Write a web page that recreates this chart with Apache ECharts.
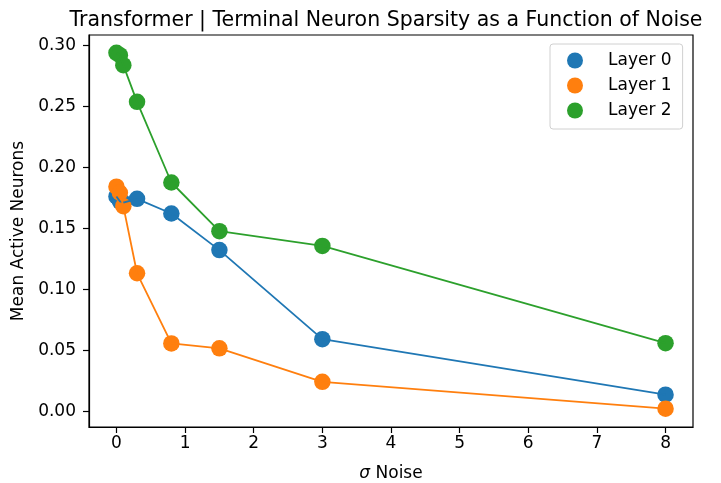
<!DOCTYPE html>
<html>
<head>
<meta charset="utf-8">
<script src="https://cdn.jsdelivr.net/npm/echarts@6/dist/echarts.min.js"></script>
<style>
  html, body { margin: 0; padding: 0; background: #fff; }
  #chart { width: 721px; height: 483px; }
</style>
</head>
<body>
<div id="chart"></div>
<script>
// Noise levels (sigma) tested
const noiseLevels = [0, 0.05, 0.1, 0.3, 0.8, 1.5, 3, 8];
// Mean fraction of active terminal neurons per layer
const layer0 = [0.176, 0.172, 0.171, 0.174, 0.162, 0.132, 0.059, 0.0135];
const layer1 = [0.184, 0.179, 0.168, 0.113, 0.0555, 0.0515, 0.024, 0.002];
const layer2 = [0.2937, 0.2918, 0.2836, 0.2535, 0.1874, 0.1475, 0.1354, 0.0557];
const layerNames = ['Layer 0', 'Layer 1', 'Layer 2'];
const xTicks = [0, 1, 2, 3, 4, 5, 6, 7, 8];
const yTicks = [0, 0.05, 0.10, 0.15, 0.20, 0.25, 0.30];

const colors = ['#1f77b4', '#ff7f0e', '#2ca02c'];
const FONT = 'DejaVu Sans';
const layers = [layer0, layer1, layer2];

const pairs = v => noiseLevels.map((x, i) => [x, v[i]]);

const series = [];
// markers for each layer
layers.forEach((vals, i) => {
  series.push({
    name: layerNames[i],
    type: 'scatter',
    data: pairs(vals),
    symbol: 'circle',
    symbolSize: 16.5,
    itemStyle: { color: colors[i], opacity: 1 },
    z: 2 + i * 0.1,
    emphasis: { disabled: true },
    silent: true
  });
});
// connecting lines, drawn above the markers
layers.forEach((vals, i) => {
  series.push({
    name: layerNames[i] + ' trend',
    type: 'line',
    data: pairs(vals),
    showSymbol: false,
    symbol: 'none',
    lineStyle: { color: colors[i], width: 1.8 },
    z: 5 + i * 0.1,
    silent: true
  });
});

const chart = echarts.init(document.getElementById('chart'), null, { renderer: 'canvas' });
chart.setOption({
  animation: false,
  backgroundColor: '#fff',
  textStyle: { fontFamily: FONT },
  title: {
    text: 'Transformer | Terminal Neuron Sparsity as a Function of Noise',
    left: 381,
    textAlign: 'center',
    top: 5,
    textStyle: { fontFamily: FONT, fontSize: 20.5, fontWeight: 'normal', color: '#000' }
  },
  grid: {
    left: 89, right: 28, top: 35, bottom: 56,
    outerBoundsMode: 'none',
    containLabel: false,
    show: true, borderColor: '#000', borderWidth: 1.2, backgroundColor: 'transparent'
  },
  legend: {
    data: layerNames,
    orient: 'vertical',
    left: 550,
    top: 44,
    icon: 'circle',
    itemWidth: 16,
    itemHeight: 16,
    itemGap: 8,
    padding: [8, 11, 10, 17],
    borderColor: '#d0d0d0',
    borderWidth: 1,
    borderRadius: 3,
    backgroundColor: 'rgba(255,255,255,0.8)',
    textStyle: { fontFamily: FONT, fontSize: 17, color: '#000', padding: [0, 0, 0, 20] },
    selectedMode: false
  },
  xAxis: {
    type: 'value',
    min: -0.4,
    max: 8.4,
    name: '{s|σ} Noise',
    nameLocation: 'middle',
    nameGap: 38,
    nameTextStyle: {
      fontFamily: FONT, fontSize: 17, color: '#000',
      rich: { s: { fontFamily: FONT, fontSize: 17, fontStyle: 'italic', color: '#000' } }
    },
    splitLine: { show: false },
    axisLine: { show: true, onZero: false, lineStyle: { color: '#000', width: 1.2 } },
    axisTick: { show: true, customValues: xTicks, inside: false, length: 6, lineStyle: { color: '#000', width: 1.2 } },
    axisLabel: { customValues: xTicks, fontFamily: FONT, fontSize: 17, color: '#000', margin: 8,
      formatter: v => String(v) }
  },
  yAxis: {
    type: 'value',
    min: -0.013,
    max: 0.3083,
    name: 'Mean Active Neurons',
    nameLocation: 'middle',
    nameGap: 62,
    nameTextStyle: { fontFamily: FONT, fontSize: 17, color: '#000' },
    splitLine: { show: false },
    axisLine: { show: true, onZero: false, lineStyle: { color: '#000', width: 1.2 } },
    axisTick: { show: true, customValues: yTicks, inside: false, length: 6, lineStyle: { color: '#000', width: 1.2 } },
    axisLabel: { customValues: yTicks, fontFamily: FONT, fontSize: 17, color: '#000', margin: 13,
      formatter: v => v.toFixed(2) }
  },
  series: series
});
</script>
</body>
</html>
